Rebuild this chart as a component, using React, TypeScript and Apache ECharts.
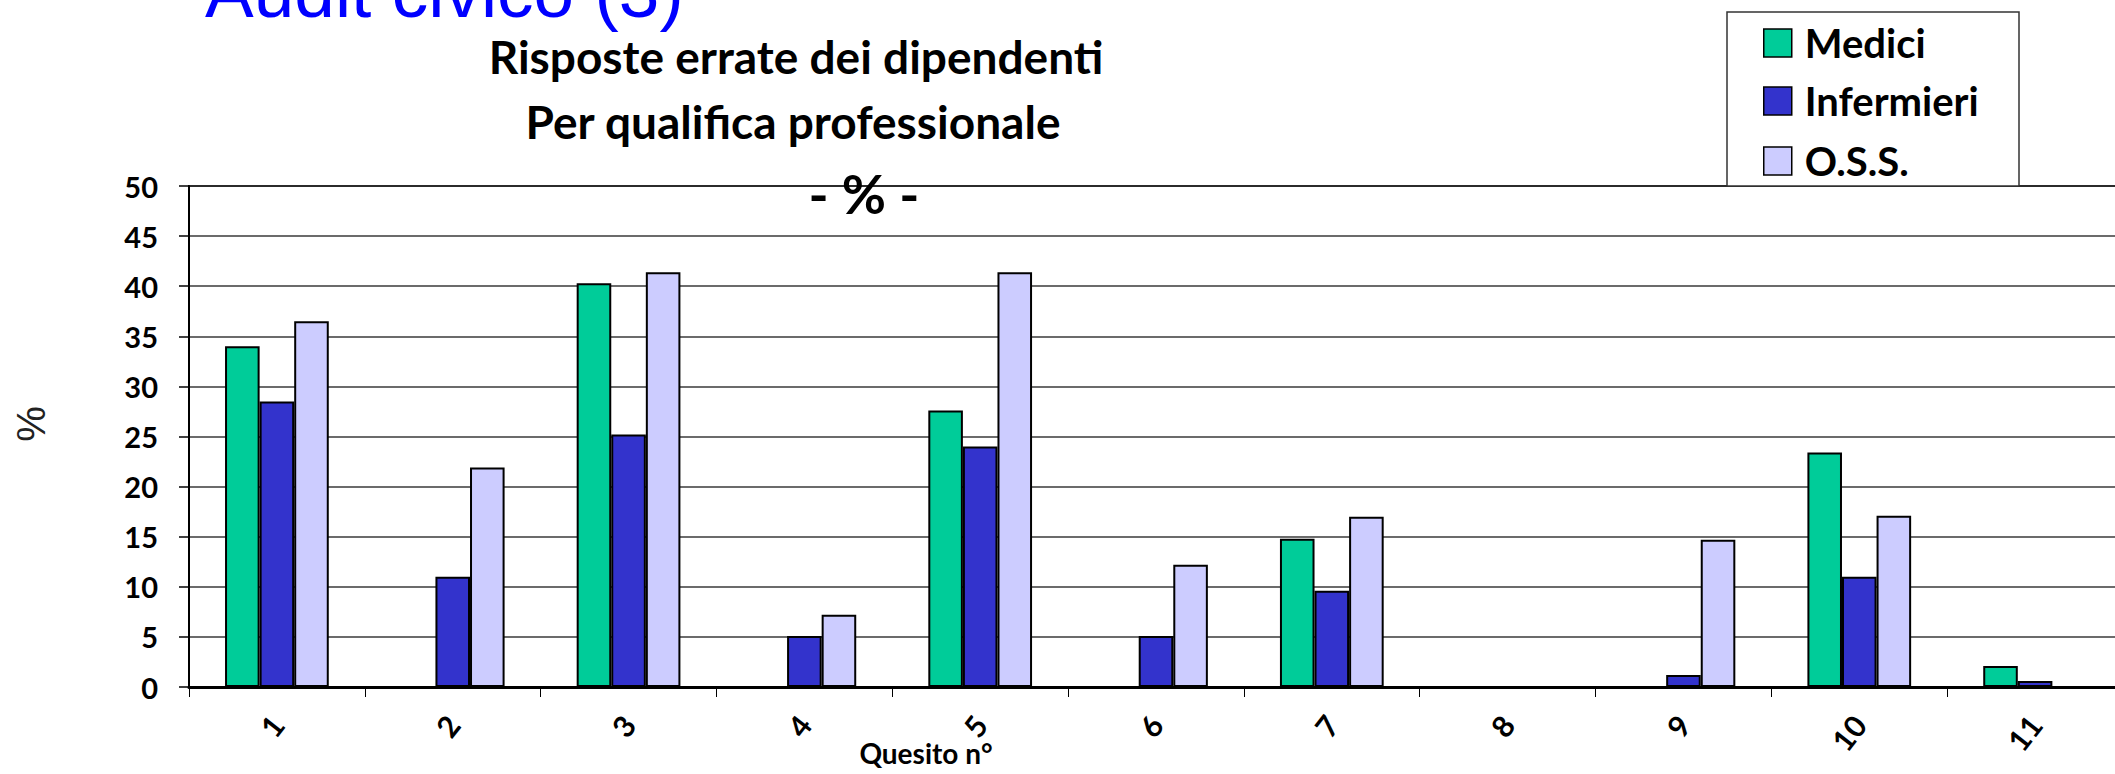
import React, { useEffect, useRef } from "react";
import * as echarts from "echarts";

const categories = ["1", "2", "3", "4", "5", "6", "7", "8", "9", "10", "11"];
const medici = [34.0, 0, 40.3, 0, 27.6, 0, 14.8, 0, 0, 23.4, 2.1];
const infermieri = [28.5, 11.0, 25.2, 5.1, 24.0, 5.1, 9.6, 0, 1.2, 11.0, 0.6];
const oss = [36.5, 21.9, 41.4, 7.2, 41.4, 12.2, 17.0, 0, 14.7, 17.1, 0];
const seriesNames = ["Medici", "Infermieri", "O.S.S."];
const seriesColors = ["#00CC99", "#3333CC", "#CCCCFF"];

const FONT = "Lato, 'Open Sans', sans-serif";
const legendTops = [23, 81, 141];

export default function App() {
  const ref = useRef<HTMLDivElement>(null);

  useEffect(() => {
    if (!ref.current) return;
    const chart = echarts.init(ref.current, undefined, { renderer: "svg" });
    const data = [medici, infermieri, oss];
    chart.setOption({
      animation: false,
      backgroundColor: "#ffffff",
      grid: {
        left: 189,
        top: 186,
        width: 1934,
        height: 501,
        containLabel: false,
        outerBoundsMode: "none",
        show: true,
        borderColor: "#000",
        borderWidth: 2,
        backgroundColor: "transparent",
      },
      legend: seriesNames.map((name, i) => ({
        orient: "vertical",
        left: 1763,
        top: legendTops[i],
        padding: 0,
        z: 10,
        itemWidth: 28,
        itemHeight: 28,
        icon: "rect",
        data: [name],
        itemStyle: { borderColor: "#000", borderWidth: 1.5 },
        textStyle: {
          fontFamily: FONT,
          fontWeight: "bold",
          fontSize: 40,
          color: "#000",
          lineHeight: 28,
          padding: [0, 0, 0, 8],
        },
      })),
      xAxis: {
        type: "category",
        data: categories,
        axisLine: { lineStyle: { color: "#000", width: 3 } },
        axisTick: { show: true, length: 10, lineStyle: { color: "#000", width: 1 } },
        axisLabel: {
          rotate: 52,
          margin: 32,
          fontFamily: FONT,
          fontWeight: "bold",
          fontSize: 30,
          color: "#000",
        },
      },
      yAxis: {
        type: "value",
        min: 0,
        max: 50,
        interval: 5,
        axisLine: { show: true, lineStyle: { color: "#000", width: 2 } },
        axisTick: { show: true, length: 10, lineStyle: { color: "#000", width: 1.5 } },
        axisLabel: {
          margin: 31,
          fontFamily: FONT,
          fontWeight: "bold",
          fontSize: 29,
          color: "#000",
        },
        splitLine: { show: true, lineStyle: { color: "#3a3a3a", width: 1.5 } },
      },
      graphic: [
        {
          type: "rect",
          z: 1,
          shape: { x: 1727, y: 12, width: 292, height: 174 },
          style: { fill: "#fff", stroke: "#333", lineWidth: 1.5 },
        },
        {
          type: "text",
          x: 205,
          y: -8.5,
          style: {
            text: "Audit civico (3)",
            font: "normal 73px 'Liberation Sans', Arial, sans-serif",
            fill: "#0000FF",
            align: "left",
            verticalAlign: "middle",
          },
        },
        {
          type: "text",
          x: 796,
          y: 56,
          style: {
            text: "Risposte errate dei dipendenti",
            font: "bold 46px " + FONT,
            fill: "#000",
            align: "center",
            verticalAlign: "middle",
          },
        },
        {
          type: "text",
          x: 793,
          y: 121,
          style: {
            text: "Per qualifica professionale",
            font: "bold 46px " + FONT,
            fill: "#000",
            align: "center",
            verticalAlign: "middle",
          },
        },
        {
          type: "text",
          x: 864,
          y: 193,
          z: 20,
          style: {
            text: "- % -",
            font: "bold 54px " + FONT,
            fill: "#000",
            align: "center",
            verticalAlign: "middle",
          },
        },
        {
          type: "text",
          x: 926,
          y: 753,
          style: {
            text: "Quesito n°",
            font: "bold 28px " + FONT,
            fill: "#000",
            align: "center",
            verticalAlign: "middle",
          },
        },
        {
          type: "text",
          x: 31,
          y: 424,
          rotation: Math.PI / 2,
          style: {
            text: "%",
            font: "normal 40px 'Liberation Sans', Arial, sans-serif",
            fill: "#222",
            align: "center",
            verticalAlign: "middle",
          },
        },
      ],
      series: seriesNames.map((name, i) => ({
        name,
        type: "bar",
        data: data[i],
        barGap: "0%",
        barCategoryGap: "41%",
        itemStyle: { color: seriesColors[i], borderColor: "#000", borderWidth: 2 },
      })),
    });
    return () => chart.dispose();
  }, []);

  return (
    <div
      ref={ref}
      style={{ position: "absolute", left: 0, top: 0, width: 2115, height: 774 }}
    />
  );
}
